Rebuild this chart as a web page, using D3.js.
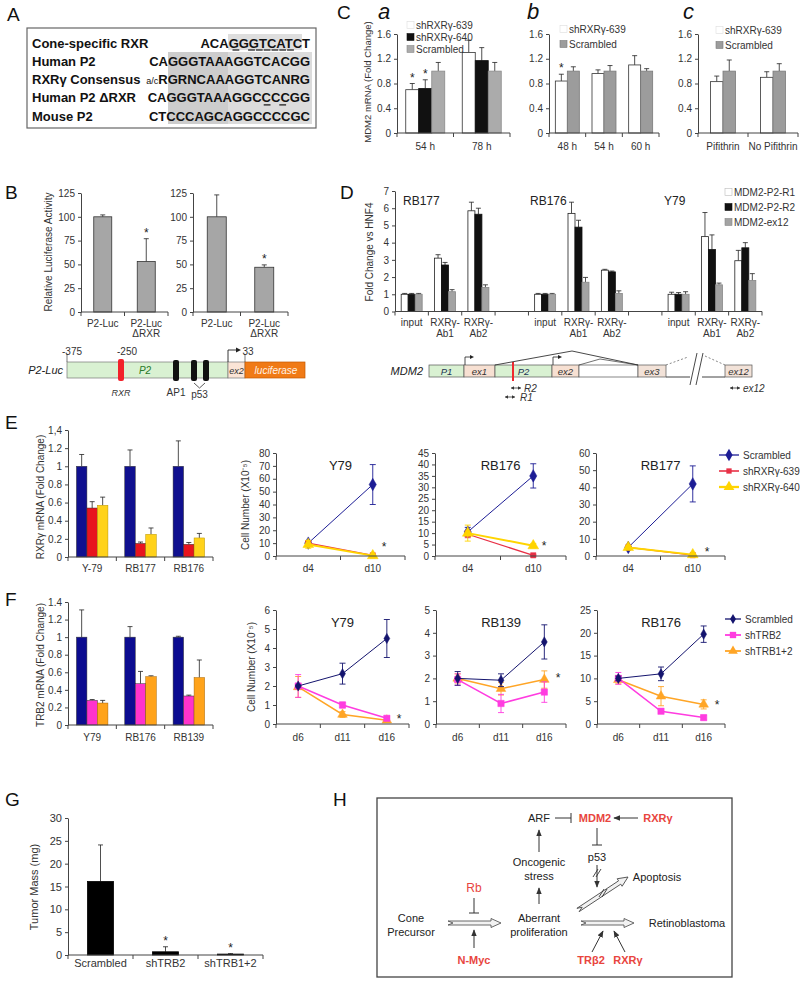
<!DOCTYPE html>
<html><head><meta charset="utf-8">
<script src="https://cdn.jsdelivr.net/npm/d3@7"></script>
<style>body{margin:0;background:#fff}svg{display:block}text{font-family:"Liberation Sans",Arial,sans-serif}</style>
</head><body><svg id="fig" width="800" height="1003"></svg>
<script>
// ---------------- DATA ----------------
// Panel A
const seqLabels = ["Cone-specific RXR", "Human P2", "RXRγ Consensus", "Human P2 ΔRXR", "Mouse P2"];
const seqPrefix = ["", "", "a/c", "", ""];
const seqStrings = ["ACAGGGTCATCT", "CAGGGTAAAGGTCACGG", "RGRNCAAAGGTCANRG", "CAGGGTAAAGGCCCCGG", "CTCCCAGCAGGCCCCGC"];
const seqUnderline = [[2, 4, 5, 6, 7, 8, 9], [], [], [11, 13], []];
// Panel B
const bCats = ["P2-Luc", "P2-Luc\nΔRXR"];
const bVals1 = [100, 53], bErr1 = [2, 24], bSig1 = [0, 1];
const bVals2 = [100, 47], bErr2 = [23, 2.5], bSig2 = [0, 1];
const bTicks = [0, 25, 50, 75, 100, 125];
// Panel C
const cSeriesA = ["shRXRγ-639", "shRXRγ-640", "Scrambled"];
const cCatsA = ["54 h", "78 h"];
const cValsA = [[0.70, 1.30], [0.72, 1.17], [1.0, 1.0]];
const cErrA = [[0.10, 0.20], [0.14, 0.21], [0.14, 0.14]];
const cSigA = [[1, 0], [1, 0], [0, 0]];
const cSeriesB = ["shRXRγ-639", "Scrambled"];
const cCatsB = ["48 h", "54 h", "60 h"];
const cValsB = [[0.84, 0.96, 1.10], [1.0, 1.0, 1.0]];
const cErrB = [[0.11, 0.06, 0.15], [0.07, 0.09, 0.04]];
const cSigB = [[1, 0, 0], [0, 0, 0]];
const cCatsC = ["Pifithrin", "No Pifithrin"];
const cValsC = [[0.83, 0.90], [1.0, 1.0]];
const cErrC = [[0.09, 0.09], [0.18, 0.12]];
const cTicks = [0, 0.4, 0.8, 1.2, 1.6];
// Panel D
const dGroups = ["RB177", "RB176", "Y79"];
const dCats = ["input", "RXRγ-\nAb1", "RXRγ-\nAb2"];
const dSeries = ["MDM2-P2-R1", "MDM2-P2-R2", "MDM2-ex12"];
const dVals = [[1.0, 3.1, 5.85, 1.0, 5.7, 2.4, 1.0, 4.35, 2.95],
               [1.0, 2.7, 5.65, 1.0, 4.9, 2.3, 1.0, 3.6, 3.7],
               [1.0, 1.15, 1.4, 1.0, 1.7, 1.05, 1.0, 1.55, 1.8]];
const dErr = [[0.05, 0.2, 0.5, 0.05, 0.65, 0.05, 0.12, 1.4, 0.6],
              [0.05, 0.15, 0.35, 0.05, 0.4, 0.05, 0.1, 0.85, 0.3],
              [0.05, 0.12, 0.15, 0.05, 0.28, 0.15, 0.15, 0.1, 0.4]];
const dTicks = [0, 1, 2, 3, 4, 5, 6, 7];
// Panel E
const eCats = ["Y-79", "RB177", "RB176"];
const eSeries = ["Scrambled", "shRXRγ-639", "shRXRγ-640"];
const eVals = [[1, 1, 1], [0.54, 0.15, 0.14], [0.57, 0.25, 0.21]];
const eErr = [[0.13, 0.18, 0.28], [0.07, 0.015, 0.02], [0.09, 0.07, 0.05]];
const eTicks = [0, 0.2, 0.4, 0.6, 0.8, 1, 1.2, 1.4];
const eDays = ["d4", "d10"];
const eTitles = ["Y79", "RB176", "RB177"];
const eMax = [80, 45, 60], eStep = [10, 5, 10];
const eLineVals = [[[10, 55.5], [10, 0.5], [9, 0.3]],
                   [[10.5, 35], [9.5, 0.3], [10, 4.5]],
                   [[5, 42], [5, 0.5], [5, 0.8]]];
const eLineErr = [[[1.5, 15.5], [1, 0.5], [3, 0.5]],
                  [[2, 5.3], [1.5, 0.3], [3.5, 1]],
                  [[0.5, 10.5], [0.5, 0.3], [1, 0.5]]];
// Panel F
const fCats = ["Y79", "RB176", "RB139"];
const fSeries = ["Scrambled", "shTRB2", "shTRB1+2"];
const fVals = [[1, 1, 1], [0.28, 0.47, 0.33], [0.25, 0.55, 0.54]];
const fErr = [[0.31, 0.12, 0.01], [0.01, 0.14, 0.01], [0.03, 0.01, 0.2]];
const fDays = ["d6", "d11", "d16"];
const fTitles = ["Y79", "RB139", "RB176"];
const fMax = [6, 5, 25], fStep = [1, 1, 5];
const fLineVals = [[[2.0, 2.65, 4.5], [2.0, 1.0, 0.3], [1.95, 0.5, 0.2]],
                   [[2.0, 1.92, 3.6], [1.95, 0.9, 1.4], [2.0, 1.55, 1.95]],
                   [[10, 11, 19.7], [10, 2.8, 1.4], [9.7, 6.1, 4.3]]];
const fLineErr = [[[0.05, 0.55, 1.0], [0.6, 0.15, 0.05], [0.55, 0.15, 0.05]],
                  [[0.3, 0.28, 0.75], [0.25, 0.4, 0.45], [0.2, 0.28, 0.38]],
                  [[0.5, 1.5, 1.8], [1.3, 0.5, 0.5], [0.9, 2.1, 1.0]]];
// Panel G
const gCats = ["Scrambled", "shTRB2", "shTRB1+2"];
const gVals = [16.1, 0.7, 0.2], gErr = [8, 1.1, 0.1], gSig = [0, 1, 1];
const gTicks = [0, 5, 10, 15, 20, 25, 30];

// ---------------- HELPERS ----------------
const svg = d3.select("#fig");
function txt(g, x, y, s, o = {}) {
  const t = g.append("text").attr("x", x).attr("y", y)
    .attr("font-size", o.size || 10).attr("text-anchor", o.anchor || "start")
    .attr("fill", o.fill || "#222");
  if (o.weight) t.attr("font-weight", o.weight);
  if (o.italic) t.attr("font-style", "italic");
  if (o.family) t.attr("font-family", o.family);
  if (o.rotate) t.attr("transform", `rotate(${o.rotate},${x},${y})`);
  t.text(s);
  return t;
}
function yAxis(g, y, x, ticks, fmt, size = 10) {
  const ax = g.append("g").attr("transform", `translate(${x},0)`)
    .call(d3.axisLeft(y).tickValues(ticks).tickFormat(fmt).tickSize(3).tickSizeOuter(0).tickPadding(3));
  ax.select(".domain").attr("stroke", "#444");
  ax.selectAll(".tick line").attr("stroke", "#444");
  ax.selectAll("text").attr("font-size", size).attr("fill", "#333").attr("font-family", "Liberation Sans, Arial, sans-serif");
  return ax;
}
function xAxisBand(g, xb, y0) {
  const [a, b] = xb.range();
  g.append("line").attr("x1", a).attr("x2", b).attr("y1", y0).attr("y2", y0).attr("stroke", "#444");
  const n = xb.domain().length;
  for (let i = 0; i <= n; i++) {
    const xx = a + i * xb.step();
    g.append("line").attr("x1", xx).attr("x2", xx).attr("y1", y0).attr("y2", y0 + 4).attr("stroke", "#444");
  }
}
function multiLabel(g, x, y, s, lh, o) {
  s.split("\n").forEach((l, i) => txt(g, x, y + i * lh, l, Object.assign({ anchor: "middle" }, o)));
}
function barChart(g, c) {
  const x = d3.scaleBand().domain(c.slots).range([c.x0, c.x1]);
  const y = d3.scaleLinear().domain([0, c.yMax]).range([c.yB, c.yT]);
  const keys = c.keys || c.slots;
  const n = c.vals.length, bw = c.barW;
  c.vals.forEach((vals, si) => {
    vals.forEach((v, ci) => {
      const bx = x(keys[ci]) + x.bandwidth() / 2 - n * bw / 2 + si * bw;
      const cx = bx + bw / 2;
      const e = c.errs[si][ci];
      g.append("line").attr("x1", cx).attr("x2", cx).attr("y1", y(v)).attr("y2", y(v + e)).attr("stroke", "#222").attr("stroke-width", 0.8);
      g.append("line").attr("x1", cx - 2.5).attr("x2", cx + 2.5).attr("y1", y(v + e)).attr("y2", y(v + e)).attr("stroke", "#222").attr("stroke-width", 0.8);
      g.append("rect").attr("x", bx).attr("y", y(v)).attr("width", bw).attr("height", c.yB - y(v))
        .attr("fill", c.fills[si]).attr("stroke", c.strokes[si]).attr("stroke-width", c.sw || 0.8);
      if (c.sig && c.sig[si][ci]) txt(g, cx, y(v + e) - 2, "*", { anchor: "middle", size: 12 });
    });
  });
  yAxis(g, y, c.x0, c.ticks, c.fmt, c.tickSize || 10);
  xAxisBand(g, x, c.yB);
  (c.labels || []).forEach((l, i) => {
    const key = keys[i];
    multiLabel(g, x(key) + x.bandwidth() / 2, c.labY, l, c.labLH || 10, { size: c.labSize || 10, fill: "#333" });
  });
  return { x, y };
}
const symbols = { diamond: d3.symbolDiamond, square: d3.symbolSquare, triangle: d3.symbolTriangle, circle: d3.symbolCircle };
function lineChart(g, c) {
  const x = d3.scaleBand().domain(c.days).range([c.x0, c.x1]);
  const y = d3.scaleLinear().domain([0, c.yMax]).range([c.yB, c.yT]);
  const cx = d => x(d) + x.bandwidth() / 2;
  const order = c.order || c.vals.map((d, i) => i);
  order.forEach(si => {
    const vals = c.vals[si], st = c.styles[si];
    vals.forEach((v, i) => {
      const e = c.errs[si][i];
      if (e <= 0) return;
      const X = cx(c.days[i]);
      const lo = Math.max(0, v - e);
      g.append("line").attr("x1", X).attr("x2", X).attr("y1", y(lo)).attr("y2", y(v + e)).attr("stroke", st.color).attr("stroke-width", 0.9);
      [lo, v + e].forEach(t => g.append("line").attr("x1", X - 3).attr("x2", X + 3).attr("y1", y(t)).attr("y2", y(t)).attr("stroke", st.color).attr("stroke-width", 0.9));
    });
    g.append("path").datum(vals).attr("fill", "none").attr("stroke", st.color).attr("stroke-width", st.w)
      .attr("d", d3.line().x((v, i) => cx(c.days[i])).y(v => y(v)));
    vals.forEach((v, i) => {
      g.append("path").attr("d", d3.symbol().type(symbols[st.marker]).size(st.size)())
        .attr("transform", `translate(${cx(c.days[i])},${y(v)})`).attr("fill", st.color).attr("stroke", st.mstroke || st.color).attr("stroke-width", 0.5);
    });
  });
  yAxis(g, y, c.x0, d3.range(0, c.yMax + 0.001, c.step), d3.format("d"), 10);
  xAxisBand(g, x, c.yB);
  c.days.forEach(d => txt(g, cx(d), c.labY, d, { anchor: "middle", size: 10, fill: "#333" }));
  txt(g, c.titleX, c.titleY, c.title, { anchor: "middle", size: 13 });
  if (c.sigAt) txt(g, c.sigAt[0], c.sigAt[1], "*", { anchor: "middle", size: 12 });
  return { x, y };
}
function lineLegend(g, x0, x1, tx, ys, names, styles) {
  names.forEach((nm, i) => {
    const st = styles[i];
    g.append("line").attr("x1", x0).attr("x2", x1).attr("y1", ys[i]).attr("y2", ys[i]).attr("stroke", st.color).attr("stroke-width", st.w + 0.3);
    g.append("path").attr("d", d3.symbol().type(symbols[st.marker]).size(st.size)())
      .attr("transform", `translate(${(x0 + x1) / 2},${ys[i]})`).attr("fill", st.color);
    txt(g, tx, ys[i] + 3.5, nm, { size: 10, fill: "#333" });
  });
}
function boxLegend(g, x, tx, ys, names, fills, strokes, size = 10) {
  names.forEach((nm, i) => {
    g.append("rect").attr("x", x).attr("y", ys[i] - 3.5).attr("width", 7).attr("height", 7).attr("fill", fills[i]).attr("stroke", strokes[i]).attr("stroke-width", 0.6);
    txt(g, tx, ys[i] + 3.5, nm, { size, fill: "#333" });
  });
}
const fmtComma = d => d === 0 ? "0" : String(+d.toFixed(1));

// panel letters
[["A", 7, 21], ["B", 5, 199], ["C", 337, 19], ["D", 340, 199], ["E", 5, 429], ["F", 5, 606], ["G", 5, 806], ["H", 333, 806]]
  .forEach(([l, x, y]) => txt(svg, x, y, l, { size: 19, fill: "#111" }));

// ---------------- PANEL A ----------------
(function () {
  const g = svg.append("g");
  g.append("rect").attr("x", 168).attr("y", 52).attr("width", 144).attr("height", 72).attr("fill", "#dcdcdc");
  g.append("rect").attr("x", 168).attr("y", 52).attr("width", 60).attr("height", 72).attr("fill", "#cdcdcd");
  g.append("rect").attr("x", 228).attr("y", 34).attr("width", 74).attr("height", 16).attr("fill", "#dedede");
  g.append("rect").attr("x", 27).attr("y", 28).attr("width", 289).attr("height", 100).attr("fill", "none").attr("stroke", "#666").attr("stroke-width", 1.2);
  const cw = 7.8, xEnd = 310;
  seqLabels.forEach((lab, i) => {
    const yb = 47.5 + i * 18.3;
    txt(g, 32, yb, lab, { size: 13, weight: "bold", family: "Liberation Mono, Courier New, monospace", fill: "#111" });
    const t = g.append("text").attr("x", xEnd).attr("y", yb).attr("text-anchor", "end")
      .attr("font-family", "Liberation Mono, Courier New, monospace").attr("fill", "#111");
    if (seqPrefix[i]) t.append("tspan").attr("font-size", 9).text(seqPrefix[i]);
    t.append("tspan").attr("font-size", 13).attr("font-weight", "bold").text(seqStrings[i]);
    const n = seqStrings[i].length;
    seqUnderline[i].forEach(ci => {
      const x1 = xEnd - (n - ci) * cw;
      g.append("line").attr("x1", x1 + 0.5).attr("x2", x1 + cw - 0.5).attr("y1", yb + 2.5).attr("y2", yb + 2.5).attr("stroke", "#111").attr("stroke-width", 1.2);
    });
  });
})();

// ---------------- PANEL B ----------------
(function () {
  const g = svg.append("g");
  const common = { slots: bCats, yB: 312, yT: 193, yMax: 125, ticks: bTicks, fmt: d3.format("d"), fills: ["#a6a6a6"], strokes: ["#333"], labels: bCats, labY: 327, labLH: 10 };
  barChart(g, Object.assign({}, common, { x0: 81, x1: 168, barW: 18, vals: [bVals1], errs: [bErr1], sig: [bSig1] }));
  barChart(g, Object.assign({}, common, { x0: 193, x1: 288, barW: 19, vals: [bVals2], errs: [bErr2], sig: [bSig2] }));
  txt(g, 52, 252, "Relative Luciferase Activity", { anchor: "middle", rotate: -90, size: 10, fill: "#333" });
  // P2-Luc construct
  const yT = 362, h = 16;
  txt(g, 63, 374, "P2-Luc", { anchor: "end", italic: true, size: 11 });
  g.append("rect").attr("x", 67).attr("y", yT).attr("width", 161).attr("height", h).attr("fill", "#d9f1d2").attr("stroke", "#777").attr("stroke-width", 0.7);
  g.append("rect").attr("x", 228).attr("y", yT).attr("width", 17).attr("height", h).attr("fill", "#fbe4d6").attr("stroke", "#777").attr("stroke-width", 0.7);
  g.append("rect").attr("x", 245).attr("y", yT).attr("width", 60).attr("height", h).attr("fill", "#f07a16").attr("stroke", "#c45a00").attr("stroke-width", 0.7);
  txt(g, 145, 374, "P2", { anchor: "middle", italic: true, size: 10, fill: "#2a7a2a" });
  txt(g, 236.5, 374, "ex2", { anchor: "middle", italic: true, size: 9, fill: "#333" });
  txt(g, 276, 374, "luciferase", { anchor: "middle", italic: true, size: 10, fill: "#fff2e6" });
  g.append("rect").attr("x", 118).attr("y", 359).attr("width", 6).attr("height", 22).attr("rx", 2).attr("fill", "#f2222a");
  [173, 191, 203].forEach(x => g.append("rect").attr("x", x).attr("y", 360).attr("width", 6).attr("height", 21).attr("rx", 2).attr("fill", "#111"));
  g.append("path").attr("d", "M194,383 L199.5,388 L205,383").attr("fill", "none").attr("stroke", "#333").attr("stroke-width", 0.8);
  [67, 245].forEach(x => g.append("line").attr("x1", x).attr("x2", x).attr("y1", 354).attr("y2", yT).attr("stroke", "#444").attr("stroke-width", 0.7));
  g.append("path").attr("d", "M228,362 L228,350 L238,350").attr("fill", "none").attr("stroke", "#222").attr("stroke-width", 0.9);
  g.append("path").attr("d", "M241,350 L236,347.5 L236,352.5 Z").attr("fill", "#222");
  txt(g, 72, 355, "-375", { anchor: "middle", size: 10, fill: "#333" });
  txt(g, 127, 355, "-250", { anchor: "middle", size: 10, fill: "#333" });
  txt(g, 248, 355, "33", { anchor: "middle", size: 10, fill: "#333" });
  txt(g, 121, 396, "RXR", { anchor: "middle", italic: true, size: 9, fill: "#333" });
  txt(g, 176, 396, "AP1", { anchor: "middle", size: 10, fill: "#333" });
  txt(g, 199.5, 398, "p53", { anchor: "middle", size: 10, fill: "#333" });
})();

// ---------------- PANEL C ----------------
(function () {
  const g = svg.append("g");
  [["a", 378], ["b", 527], ["c", 683]].forEach(([s, x]) => txt(g, x, 19, s, { italic: true, size: 22, fill: "#111" }));
  const base = { yB: 133, yT: 34, yMax: 1.6, ticks: cTicks, fmt: d => d === 0 ? "0" : d.toFixed(1), labY: 150, sw: 0.8 };
  barChart(g, Object.assign({}, base, { slots: cCatsA, x0: 397, x1: 510, barW: 13, vals: cValsA, errs: cErrA, sig: cSigA,
    fills: ["#fff", "#111", "#ababab"], strokes: ["#333", "#111", "#8a8a8a"], labels: cCatsA }));
  barChart(g, Object.assign({}, base, { slots: cCatsB, x0: 549, x1: 659, barW: 12, vals: cValsB, errs: cErrB, sig: cSigB,
    fills: ["#fff", "#9c9c9c"], strokes: ["#333", "#7a7a7a"], labels: cCatsB }));
  barChart(g, Object.assign({}, base, { slots: cCatsC, x0: 698, x1: 798, barW: 12.5, vals: cValsC, errs: cErrC,
    fills: ["#fff", "#9c9c9c"], strokes: ["#333", "#7a7a7a"], labels: cCatsC }));
  txt(g, 371, 82, "MDM2 mRNA  (Fold Change)", { anchor: "middle", rotate: -90, size: 9.5, fill: "#333" });
  boxLegend(g, 407, 416, [25, 37, 49], cSeriesA, ["#fff", "#111", "#ababab"], ["#ddd", "#111", "#8a8a8a"]);
  boxLegend(g, 560, 569, [29, 44], cSeriesB, ["#fff", "#9c9c9c"], ["#ddd", "#7a7a7a"]);
  boxLegend(g, 716, 725, [30, 45], cSeriesB, ["#fff", "#9c9c9c"], ["#ddd", "#7a7a7a"]);
})();

// ---------------- PANEL D ----------------
(function () {
  const g = svg.append("g");
  const slots = [], keys = [];
  dGroups.forEach((gr, gi) => {
    dCats.forEach(c => { slots.push(gr + "|" + c); keys.push(gr + "|" + c); });
    if (gi < dGroups.length - 1) slots.push("gap" + gi);
  });
  const labels = dGroups.flatMap(() => dCats);
  barChart(g, { slots, keys, x0: 395, x1: 762, yB: 311.5, yT: 191, yMax: 7, ticks: dTicks, fmt: d3.format("d"),
    barW: 7, vals: dVals, errs: dErr, fills: ["#fff", "#111", "#a3a3a3"], strokes: ["#222", "#111", "#888"],
    labels, labY: 326, labLH: 11, sw: 0.8 });
  txt(g, 373, 252, "Fold Change vs HNF4", { anchor: "middle", rotate: -90, size: 10, fill: "#333" });
  [["RB177", 403], ["RB176", 530], ["Y79", 664]].forEach(([s, x]) => txt(g, x, 205, s, { size: 12, fill: "#222" }));
  boxLegend(g, 725, 734, [192, 207, 222], dSeries, ["#fff", "#111", "#a3a3a3"], ["#bbb", "#111", "#888"], 10);
  // MDM2 gene diagram
  const yT = 365, h = 12;
  txt(g, 423, 375, "MDM2", { anchor: "end", italic: true, size: 11 });
  const boxes = [[429, 464, "#d9f1d2", "P1"], [464, 495, "#f7e0d2", "ex1"], [495, 552, "#d9f1d2", "P2"], [552, 579, "#f7e0d2", "ex2"],
                 [579, 638, "#fff", ""], [638, 666, "#f2e2d8", "ex3"], [725, 752, "#f2e2d8", "ex12"]];
  g.append("line").attr("x1", 666).attr("x2", 690).attr("y1", yT + h).attr("y2", yT + h).attr("stroke", "#444");
  g.append("line").attr("x1", 702).attr("x2", 725).attr("y1", yT + h).attr("y2", yT + h).attr("stroke", "#444");
  boxes.forEach(([a, b, f, l]) => {
    g.append("rect").attr("x", a).attr("y", yT).attr("width", b - a).attr("height", h).attr("fill", f).attr("stroke", "#555").attr("stroke-width", 0.7);
    if (l) txt(g, (a + b) / 2, yT + 9.5, l, { anchor: "middle", italic: true, size: 9.5, fill: l[0] === "P" ? "#235" : "#333" });
  });
  g.append("line").attr("x1", 513).attr("x2", 513).attr("y1", 362).attr("y2", 381).attr("stroke", "#f0282e").attr("stroke-width", 2);
  [465, 553].forEach(x => {
    g.append("path").attr("d", `M${x},${yT} L${x},357 L${x + 6},357`).attr("fill", "none").attr("stroke", "#222").attr("stroke-width", 0.8);
    g.append("path").attr("d", `M${x + 9},357 L${x + 5},355 L${x + 5},359 Z`).attr("fill", "#222");
  });
  g.append("path").attr("d", "M495,365 L572,351 L638,365").attr("fill", "none").attr("stroke", "#333").attr("stroke-width", 0.9);
  g.append("path").attr("d", "M579,365 L600,359 L638,365").attr("fill", "none").attr("stroke", "#333").attr("stroke-width", 0.7);
  g.append("path").attr("d", "M666,365 L688,357 M705,356 L725,365").attr("fill", "none").attr("stroke", "#555").attr("stroke-width", 0.7).attr("stroke-dasharray", "2,2");
  g.append("path").attr("d", "M690,385 L697,353 M696,385 L703,353").attr("fill", "none").attr("stroke", "#333").attr("stroke-width", 0.9);
  function prim(x, y) {
    g.append("path").attr("d", `M${x},${y} L${x + 10},${y}`).attr("stroke", "#333").attr("stroke-width", 0.8);
    g.append("path").attr("d", `M${x},${y} l3,-1.7 l0,3.4 Z M${x + 10},${y} l-3,-1.7 l0,3.4 Z`).attr("fill", "#333");
  }
  prim(511, 388); prim(505, 397); prim(730, 388);
  txt(g, 524, 391.5, "R2", { italic: true, size: 10, fill: "#333" });
  txt(g, 520, 400.5, "R1", { italic: true, size: 10, fill: "#333" });
  txt(g, 743, 391.5, "ex12", { italic: true, size: 10, fill: "#333" });
})();

// ---------------- PANEL E ----------------
const eColors = ["#10108f", "#e8141e", "#ffd21a"];
(function () {
  const g = svg.append("g");
  barChart(g, { slots: eCats, x0: 68, x1: 213, yB: 557, yT: 430, yMax: 1.4, ticks: eTicks, fmt: d => d === 1.4 ? "1,4" : fmtComma(d),
    barW: 10.5, vals: eVals, errs: eErr, fills: eColors, strokes: ["#333", "#333", "#b89400"], labels: eCats, labY: 572, sw: 0.5 });
  txt(g, 44, 497, "RXRγ mRNA (Fold Change)", { anchor: "middle", rotate: -90, size: 10, fill: "#333" });
  const styles = [{ color: "#1d1d95", w: 1, marker: "diamond", size: 45 },
                  { color: "#e83046", w: 1.3, marker: "square", size: 28 },
                  { color: "#ffd400", w: 2, marker: "triangle", size: 50 }];
  const ranges = [[276, 405], [435, 566], [596, 725]];
  const sigs = [[384, 551], [544, 550], [707, 556]];
  eTitles.forEach((t, i) => {
    lineChart(g, { days: eDays, x0: ranges[i][0], x1: ranges[i][1], yB: 556, yT: 453, yMax: eMax[i], step: eStep[i],
      vals: eLineVals[i], errs: eLineErr[i], styles, order: [0, 1, 2], labY: 572, title: t,
      titleX: (ranges[i][0] + ranges[i][1]) / 2, titleY: 470, sigAt: sigs[i] });
  });
  txt(g, 249, 505, "Cell Number (X10⁻⁵)", { anchor: "middle", rotate: -90, size: 10, fill: "#333" });
  lineLegend(g, 719, 739, 743, [455, 471, 487], eSeries, styles);
})();

// ---------------- PANEL F ----------------
(function () {
  const g = svg.append("g");
  barChart(g, { slots: fCats, x0: 68, x1: 213, yB: 725, yT: 602, yMax: 1.4, ticks: eTicks, fmt: fmtComma,
    barW: 10.5, vals: fVals, errs: fErr, fills: ["#0c0c90", "#ff33cc", "#ffa31a"], strokes: ["#333", "#333", "#a86400"], labels: fCats, labY: 741, sw: 0.5 });
  txt(g, 44, 665, "TRB2  mRNA (Fold Change)", { anchor: "middle", rotate: -90, size: 10, fill: "#333" });
  const styles = [{ color: "#14146e", w: 1, marker: "diamond", size: 30 },
                  { color: "#ff3ce0", w: 1.5, marker: "square", size: 40 },
                  { color: "#ffa526", w: 1.5, marker: "triangle", size: 40 }];
  const ranges = [[276, 409], [436, 566], [597, 725]];
  const sigs = [[399, 723], [558, 682], [717, 709]];
  fTitles.forEach((t, i) => {
    lineChart(g, { days: fDays, x0: ranges[i][0], x1: ranges[i][1], yB: 724, yT: 610, yMax: fMax[i], step: fStep[i],
      vals: fLineVals[i], errs: fLineErr[i], styles, order: [2, 1, 0], labY: 741, title: t,
      titleX: (ranges[i][0] + ranges[i][1]) / 2, titleY: 627, sigAt: sigs[i] });
  });
  txt(g, 255, 667, "Cell Number (X10⁻⁵)", { anchor: "middle", rotate: -90, size: 10, fill: "#333" });
  lineLegend(g, 725, 741, 745, [619, 635, 651], fSeries, styles);
})();

// ---------------- PANEL G ----------------
(function () {
  const g = svg.append("g");
  barChart(g, { slots: gCats, x0: 68, x1: 263, yB: 955, yT: 818, yMax: 30, ticks: gTicks, fmt: d3.format("d"),
    barW: 26, vals: [gVals], errs: [gErr], sig: [gSig], fills: ["#000"], strokes: ["#000"], labels: gCats, labY: 967, labSize: 11, tickSize: 11 });
  txt(g, 38, 887, "Tumor Mass (mg)", { anchor: "middle", rotate: -90, size: 11, fill: "#333" });
})();

// ---------------- PANEL H ----------------
(function () {
  const g = svg.append("g");
  const RED = "#e8453e";
  g.append("rect").attr("x", 377).attr("y", 798).attr("width", 355).attr("height", 179).attr("fill", "none").attr("stroke", "#444").attr("stroke-width", 1.3);
  const defs = svg.append("defs");
  defs.append("marker").attr("id", "ah").attr("viewBox", "0 0 10 10").attr("refX", 9).attr("refY", 5)
    .attr("markerWidth", 7).attr("markerHeight", 7).attr("orient", "auto")
    .append("path").attr("d", "M0,1 L10,5 L0,9 Z").attr("fill", "#333");
  const arrow = (x1, y1, x2, y2) => g.append("line").attr("x1", x1).attr("y1", y1).attr("x2", x2).attr("y2", y2)
    .attr("stroke", "#333").attr("stroke-width", 1).attr("marker-end", "url(#ah)");
  const inhib = (x1, y1, x2, y2) => {
    g.append("line").attr("x1", x1).attr("y1", y1).attr("x2", x2).attr("y2", y2).attr("stroke", "#333").attr("stroke-width", 1);
    const a = Math.atan2(y2 - y1, x2 - x1), px = -Math.sin(a) * 5, py = Math.cos(a) * 5;
    g.append("line").attr("x1", x2 - px).attr("y1", y2 - py).attr("x2", x2 + px).attr("y2", y2 + py).attr("stroke", "#333").attr("stroke-width", 1);
  };
  const openArrow = (x1, y1, x2, y2) => {
    const L = Math.hypot(x2 - x1, y2 - y1), a = Math.atan2(y2 - y1, x2 - x1) * 180 / Math.PI;
    g.append("path").attr("d", `M0,-2 L${L - 10},-2 L${L - 10},-4.5 L${L},0 L${L - 10},4.5 L${L - 10},2 L0,2 L5,0 Z`)
      .attr("transform", `translate(${x1},${y1}) rotate(${a})`).attr("fill", "#f2f2f2").attr("stroke", "#444").attr("stroke-width", 0.8);
  };
  const slash = (x, y) => g.append("path").attr("d", `M${x - 4},${y + 4} L${x + 1},${y - 4} M${x - 1},${y + 4} L${x + 4},${y - 4}`)
    .attr("stroke", "#333").attr("stroke-width", 0.9).attr("fill", "none");
  const t = (x, y, s, red) => txt(g, x, y, s, { anchor: "middle", size: 11, fill: red ? RED : "#222", weight: red ? "bold" : null });
  t(539, 822, "ARF"); inhib(555, 818, 571, 818);
  t(595, 822, "MDM2", true); arrow(638, 818, 614, 818); t(658, 822, "RXRγ", true);
  inhib(597, 828, 597, 845); t(597, 861, "p53");
  arrow(597, 865, 597, 887); slash(597, 873);
  t(539, 866, "Oncogenic"); t(539, 880, "stress");
  arrow(539, 852, 539, 830);
  txt(g, 474, 892, "Rb", { anchor: "middle", size: 12, fill: RED });
  inhib(474, 898, 474, 913);
  t(411, 922, "Cone"); t(411, 936, "Precursor");
  openArrow(448, 923, 501, 923);
  arrow(474, 948, 474, 930);
  t(474, 964, "N-Myc", true);
  t(539, 922, "Aberrant"); t(539, 936, "proliferation");
  arrow(539, 904, 539, 888);
  openArrow(581, 923, 634, 923);
  t(687, 927, "Retinoblastoma");
  openArrow(578, 910, 628, 877); slash(603, 893);
  t(657, 881, "Apoptosis");
  t(591, 964, "TRβ2", true); t(628, 964, "RXRγ", true);
  arrow(592, 952, 603, 931); arrow(625, 952, 614, 931);
})();
</script></body></html>
